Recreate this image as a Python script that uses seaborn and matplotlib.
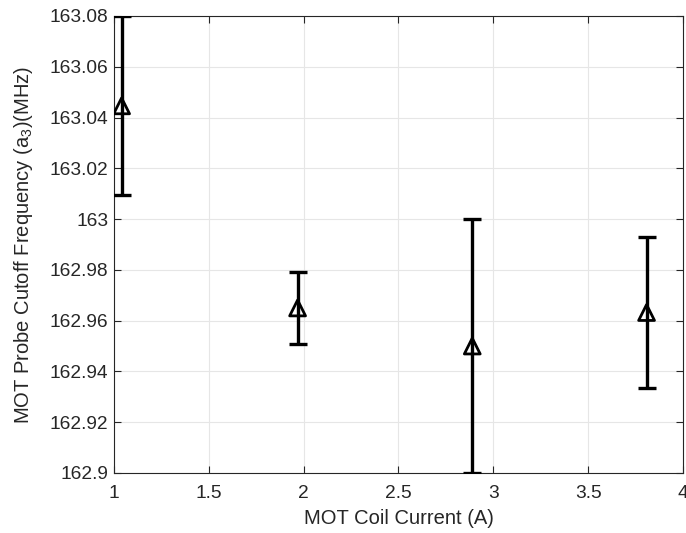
import matplotlib
matplotlib.use("Agg")
import matplotlib.pyplot as plt
import seaborn as sns
import pandas as pd
from matplotlib.ticker import FuncFormatter, MultipleLocator

# MOT coil current vs fitted cutoff frequency
coil_current = [1.04, 1.968, 2.889, 3.808]
cutoff_freq = [163.0446, 162.9650, 162.9500, 162.9632]
freq_err = [0.0352, 0.0140, 0.0500, 0.0298]

df = pd.DataFrame({"current": coil_current, "freq": cutoff_freq, "err": freq_err})

sns.set_style("whitegrid")
plt.rcParams['font.family'] = ['Liberation Sans', 'DejaVu Sans']

fig = plt.figure(figsize=(6.86, 5.33), dpi=100)
ax = fig.add_axes([0.1662, 0.1126, 0.8294, 0.8574])

ax.errorbar(df["current"], df["freq"], yerr=df["err"], fmt='none',
            ecolor='black', elinewidth=2.4, capsize=6.5, capthick=2.4, zorder=3)
sns.scatterplot(data=df, x="current", y="freq", marker='^', s=130,
                facecolor='none', edgecolor='black', linewidth=2, ax=ax, zorder=4)

ax.set_xlim(1, 4)
ax.set_ylim(162.9, 163.08)
ax.xaxis.set_major_locator(MultipleLocator(0.5))
ax.yaxis.set_major_locator(MultipleLocator(0.02))
ax.xaxis.set_major_formatter(FuncFormatter(lambda v, p: f"{round(v, 4):g}"))
ax.yaxis.set_major_formatter(FuncFormatter(lambda v, p: f"{round(v, 4):g}"))

ax.grid(True, color='#e6e6e6', linewidth=0.8)
for s in ax.spines.values():
    s.set_visible(True)
    s.set_color('#262626')
    s.set_linewidth(0.8)
ax.tick_params(direction='in', length=5, width=0.8, color='#262626',
               labelsize=13.8, labelcolor='#262626',
               top=True, right=True, bottom=True, left=True)
ax.tick_params(axis='x', pad=9)
ax.tick_params(axis='y', pad=4)

ax.set_xlabel("MOT Coil Current (A)", fontsize=14.5, color='#262626')
ax.set_ylabel("MOT Probe Cutoff Frequency (a$_{\\mathregular{3}}$)(MHz)",
              fontsize=14.5, color='#262626')
ax.xaxis.set_label_coords(0.5, -0.078)
ax.yaxis.set_label_coords(-0.139, 0.5)

fig.savefig("out.png", dpi=100)
